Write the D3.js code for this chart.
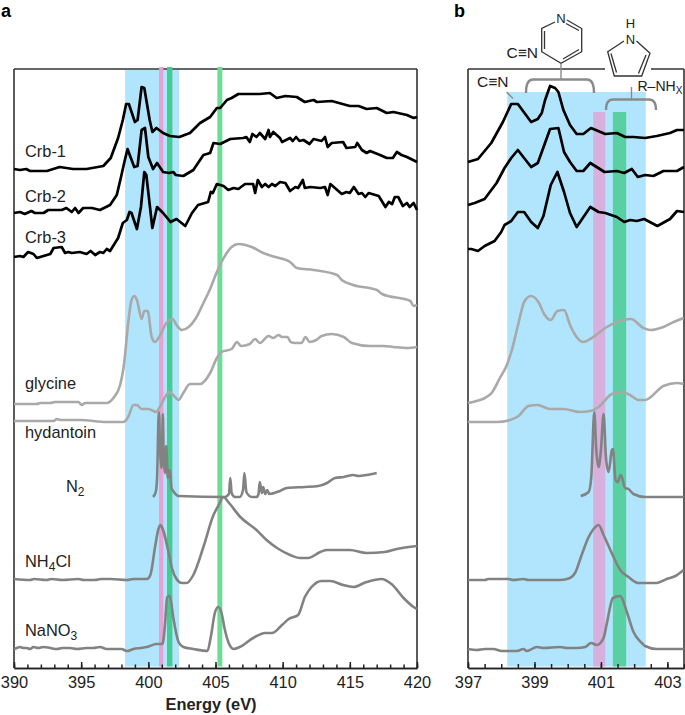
<html lang="en">
<head>
    <meta charset="UTF-8">
    <title>N K-edge spectra</title>
    <script src="https://cdn.jsdelivr.net/npm/d3@7"></script>
    <style>
        html, body { margin: 0; padding: 0; background: #fff; }
        text { font-family: "Liberation Sans", Arial, sans-serif; fill: #222; }
    </style>
</head>
<body>
    <script>
        // panel a, energy in eV and intensity in arbitrary units (stacked)
        var aCrb1E = [390,390.45,390.9,391.2,392.45,393.4,394.4,395.4,396.65,397.2,397.75,398.1,398.35,398.55,399,399.2,399.5,399.7,400.1,400.3,400.6,401.1,401.6,402.3,403.1,403.85,404.6,405.1,405.35,405.85,406.2,406.7,408.3,409.05,409.55,410.2,411.05,411.65,412.3,412.55,413.65,415,415.65,416.25,417,417.75,418.25,419.25,419.75,420];
        var aCrb1I = [499,498,499,497,497,501,499,499,502,510,530,548,564,564,546,548,581,580,548,536,540,535,532,531,535,545,551,560,560,568,570,574,574,575,570,572,571,566,568,566,567,562,562,559,560,555,556,553,550,551];

        var aCrb2E = [390,390.45,390.8,391.3,391.55,392.2,392.55,393.55,393.9,394.3,394.55,394.8,395.15,395.8,396.4,397.15,397.65,397.95,398.2,398.45,398.95,399.2,399.5,399.75,400,400.35,400.65,401.1,401.55,401.85,402.05,402.6,403.35,404.1,404.6,404.85,405.35,406.1,407.05,407.3,407.55,407.75,408.05,408.3,408.7,408.95,409.05,409.3,409.8,409.95,410.55,410.75,411,411.25,411.55,412,412.3,412.9,413.15,413.35,413.65,414.5,414.75,415.4,415.55,415.9,416.25,416.5,417.25,417.75,418.2,418.5,418.85,419.25,420];
        var aCrb2I = [455,456,454,457,455,455,458,458,460,456,460,455,460,460,458,463,473,490,505,519,501,502,538,540,511,499,505,496,495,496,493,492,498,513,515,525,524,529,530,531,526,534,531,535,529,538,531,536,530,526,530,527,531,527,528,524,529,527,531,521,525,526,520,521,525,518,515,517,513,510,510,516,513,511,506];

        var aCrb3E = [390,390.45,390.7,391.05,391.45,391.7,392.7,392.95,393.55,393.8,394.05,394.3,394.9,395.4,395.7,396.05,396.4,396.65,396.9,397.15,397.75,398.1,398.4,398.6,398.75,399.15,399.45,399.7,399.85,400.3,400.65,401.1,401.65,402.1,402.75,403.25,403.7,404.45,404.65,404.8,405.1,405.6,405.95,406.35,406.7,407.2,407.8,407.95,408.15,408.45,408.7,408.95,409.2,409.45,409.8,410.2,410.55,410.95,411.15,411.5,411.65,412.05,412.8,413.15,413.35,413.55,414.4,414.75,415,415.3,415.65,415.9,416.15,416.4,417.15,417.65,417.9,418.15,418.35,418.6,418.95,419.25,419.45,419.75,420];
        var aCrb3I = [411,412,411,416,414,410,414,420,421,415,416,415,416,414,417,413,416,415,419,417,430,445,448,456,455,439,461,496,493,440,461,455,446,449,442,455,463,466,476,475,484,482,478,480,479,484,484,475,488,481,484,481,484,482,486,485,477,481,480,488,480,481,480,481,473,484,474,476,475,481,474,475,471,475,472,461,466,464,471,471,462,465,461,465,458];

        var aGlycineE = [390,391.7,391.95,392.7,393.05,394.8,395.05,395.3,396.9,397.4,397.9,398.2,398.5,398.75,398.95,399.15,399.5,399.7,399.95,400.25,400.5,400.8,401.35,401.8,402.1,402.5,403,403.5,404.1,404.6,405.1,405.45,406.2,406.7,407.7,408.55,409.45,410.55,411.05,412.3,414.05,414.4,415.25,417,417.4,419.5,419.75,420];
        var aGlycineI = [264,264,265,265,266,266,263,265,265,270,283,305,345,368,372,368,349,357,357,331,326,331,345,349,343,338,341,349,365,379,396,406,421,424,421,415,411,406,400,398,393,388,383,378,374,367,362,363];

        var aHydantoinE = [390,392.95,393.2,393.45,394.9,396.9,398.15,398.5,398.9,399.15,399.5,400,400.6,400.85,401.25,401.55,401.85,402.25,402.6,403.1,403.85,404.6,405.1,405.45,406.2,406.6,406.9,407.55,407.95,408.3,408.95,409.3,409.7,409.95,410.35,410.6,410.95,411.4,411.7,412,412.5,412.9,413.65,414.55,415.15,416.5,417.5,418.25,419.25,420];
        var aHydantoinI = [247,247,249,248,248,246,246,251,263,263,259,259,256,261,271,276,273,268,275,284,284,295,310,316,319,326,322,324,329,325,332,330,333,331,331,326,325,325,331,326,328,332,334,331,325,322,322,321,320,321];

        var aN2E = [400.35,400.55,400.65,400.78,400.9,400.97,401.05,401.08,401.15,401.25,401.33,401.45,401.6,401.72,401.9,402.25,405.7,406,406.1,406.2,406.45,406.8,407.05,407.15,407.3,407.7,408.05,408.2,408.3,408.45,408.55,408.7,408.85,409,409.8,410.3,411.65,412.65,413.3,413.9,414.55,415.25,415.65,416.25,417];
        var aN2I = [171,176,190,256,212,200,235,254,205,195,222,190,198,180,176,172,171,174,190,175,171,171,178,195,176,171,171,174,186,175,181,174,178,174,177,180,181,182,185,190,191,193,192,193,195];

        var aNh4clE = [390,391.2,391.5,392.4,392.8,393.6,394.8,395.2,396,396.5,397.2,398.4,398.9,399.9,400.15,400.5,400.75,400.9,401.1,401.5,401.75,402.1,402.5,402.85,403.35,404.1,404.85,405.2,405.6,405.95,406.85,408.05,408.8,409.7,410.55,411.3,411.9,412.8,413.3,415,416.25,417.6,418.5,420];
        var aNh4clI = [89,88,89,88,89,88,89,88,88,89,89,88,89,89,93,121,139,143,138,116,100,89,85,85,93,121,153,162,171,166,151,138,128,119,113,110,110,116,118,118,115,116,119,122];

        var aNano3E = [390,390.2,390.45,390.7,390.95,391.2,391.45,391.8,392.2,392.7,393.2,393.6,394.15,394.7,395.4,395.9,396.4,396.9,398,398.4,398.9,399.4,399.9,400.6,401.05,401.25,401.4,401.6,401.85,402.25,402.6,403.35,404.4,404.65,404.95,405.2,405.45,405.7,406.05,406.35,406.8,407.8,408.7,409.2,409.95,410.45,411.15,411.65,412.15,412.9,413.55,414.5,415.25,416.25,417.35,418.1,419,419.75,420];
        var aNano3I = [19,20,21,20,20,19,21,20,21,20,19,20,20,19,20,20,21,19,19,17,19,20,21,24,24,45,71,72,51,26,21,19,17,31,55,61,55,38,23,19,21,30,35,35,43,49,53,71,81,87,87,83,81,86,89,84,70,61,59];

        // panel b
        var bCrb1E = [397,397.3,397.7,398.05,398.3,398.5,398.9,399.1,399.22,399.32,399.47,399.62,399.72,399.87,400.07,400.27,400.47,400.7,401.13,401.48,401.73,401.98,402.33,402.68,403.08,403.29,403.5];
        var bCrb1I = [506,509,525,546,564,564,546,549,555,568,582,580,576,558,543,534,534,540,534,535,531,531,530,532,535,538,538];

        var bCrb2E = [397,397.2,397.5,397.86,398.1,398.3,398.5,398.9,399.1,399.47,399.72,399.89,400.07,400.27,400.47,400.68,401.11,401.48,401.7,401.93,402.11,402.33,402.58,402.88,403.29,403.5];
        var bCrb2I = [463,465,469,485,500,510,518,501,505,539,540,516,506,497,497,505,496,497,495,499,491,493,492,497,497,501];

        var bCrb3E = [397,397.1,397.3,397.5,397.8,398,398.1,398.3,398.5,398.69,398.9,399.1,399.27,399.49,399.69,399.89,400.07,400.27,400.68,400.93,401.13,401.48,401.7,401.88,402.08,402.3,402.7,403.08,403.29,403.5];
        var bCrb3I = [419,419,417,422,427,436,443,447,456,456,446,440,452,483,496,476,455,441,461,456,455,451,446,448,447,449,442,449,457,456];

        var bGlycineE = [397,397.26,397.51,397.71,397.96,398.17,398.32,398.52,398.69,398.89,399.12,399.29,399.49,399.69,399.89,400.07,400.29,400.47,400.73,401.13,401.48,401.68,401.9,402.28,402.48,402.88,403.19,403.49];
        var bGlycineI = [265,267,270,275,290,303,318,345,366,372,366,354,348,357,358,343,330,326,330,340,346,348,349,340,338,341,346,350];

        var bHydantoinE = [397,397.86,398.27,398.52,398.82,399.09,399.47,399.87,400.37,400.68,400.93,401.33,401.63,401.88,402.13,402.33,402.88,403.29,403.49];
        var bHydantoinI = [246,246,248,252,262,263,259,259,256,257,261,274,276,273,268,268,282,285,284];

        var bN2E = [400.39,400.63,400.71,400.8,400.86,400.93,401,401.08,401.15,401.23,401.33,401.36,401.44,401.5,401.6,401.73,401.83,401.98,402.33,403.49];
        var bN2I = [172,176,191,256,218,201,218,254,211,196,218,219,188,186,193,180,179,174,171,171];

        var bNh4clE = [397,397.51,397.61,398.22,398.37,398.67,398.82,399.77,400.07,400.22,400.42,400.63,400.78,400.93,401.08,401.38,401.58,401.83,402.13,402.68,402.98,403.24,403.49];
        var bNh4clI = [88,88,89,89,88,89,88,88,90,95,113,131,139,143,133,111,98,91,85,85,89,92,98];

        var bNano3E = [397,397.26,397.51,397.76,398.02,398.47,398.67,398.77,399.07,399.27,399.77,399.97,400.27,400.53,400.7,400.88,401.08,401.18,401.36,401.58,401.78,401.98,402.23,402.33,402.68,402.98,403.19,403.49];
        var bNano3I = [19,18,19,19,17,17,19,17,21,20,21,20,20,21,25,23,30,45,70,72,56,36,25,22,19,19,19,19];

        var aLabels = ["Crb-1","Crb-2","Crb-3","glycine","hydantoin"];
        var aLabelIntensity = [511,466,425,279,230];
        var aTicks = [390,395,400,405,410,415,420];
        var bTicks = [397,399,401,403];

        var black = "#000", lightGrey = "#a9a9a9", darkGrey = "#828282";

        var width = 685, height = 715;
        var top_ = 69, bottom = 668;
        var fontSize = 16.4;

        var svg = d3.select("body").append("svg")
            .attr("width", width)
            .attr("height", height)
            .style("display", "block");

        var y = d3.scaleLinear().domain([0, 599]).range([bottom, top_]);
        var xa = d3.scaleLinear().domain([390, 420]).range([14, 417]);
        var xb = d3.scaleLinear().domain([397, 403.5]).range([468, 684]);

        function frame(x0, x1, gap) {
            var g = svg.append("g").attr("stroke", "#333").attr("stroke-width", 1.6).attr("fill", "none");
            var segs = gap
                ? [[x0, top_, gap[0], top_], [gap[1], top_, x1, top_]]
                : [[x0, top_, x1, top_]];
            segs.push([x0, top_, x0, bottom], [x1, top_, x1, bottom]);
            segs.forEach(s => g.append("line").attr("x1", s[0]).attr("y1", s[1]).attr("x2", s[2]).attr("y2", s[3]));
        }

        function band(x, e0, e1, yTop, color) {
            svg.append("rect")
                .attr("x", x(e0)).attr("width", x(e1) - x(e0))
                .attr("y", yTop).attr("height", 666.5 - yTop)
                .attr("fill", color);
        }

        function drawAxis(x, major, minor, size) {
            var minorAxis = d3.axisBottom(x).tickValues(minor).tickSizeInner(-size[1]).tickSizeOuter(0).tickFormat("");
            var majorAxis = d3.axisBottom(x).tickValues(major).tickSizeInner(-size[0]).tickSizeOuter(0).tickPadding(8.4).tickFormat(d3.format("d"));
            [minorAxis, majorAxis].forEach(function(a) {
                var g = svg.append("g").attr("transform", "translate(0," + bottom + ")").call(a);
                g.selectAll("path,line").attr("stroke", "#222").attr("stroke-width", 1.5);
                g.selectAll("text").attr("font-size", fontSize).attr("font-family", "Liberation Sans").attr("fill", "#222");
            });
        }

        function curve(x, es, is, color) {
            var l = d3.line().x(d => x(d[0])).y(d => y(d[1]));
            if (color !== black) l.curve(d3.curveMonotoneX);
            svg.append("path")
                .datum(d3.zip(es, is))
                .attr("d", l)
                .attr("fill", "none")
                .attr("stroke", color)
                .attr("stroke-width", color === black ? 2.7 : 2.6)
                .attr("stroke-linejoin", "round");
        }

        // panel a
        frame(14, 417);
        band(xa, 398.27, 402.29, 70, "#b1e5fd");
        band(xa, 400.8, 401.12, 67, "#e6a2d2");
        band(xa, 401.39, 401.79, 67, "#43cc8f");
        band(xa, 405.14, 405.51, 67, "#6fdb98");
        drawAxis(xa, aTicks, d3.range(390, 421), [6, 3.5]);

        [[aNano3E, aNano3I, darkGrey], [aNh4clE, aNh4clI, darkGrey], [aN2E, aN2I, darkGrey],
         [aHydantoinE, aHydantoinI, lightGrey], [aGlycineE, aGlycineI, lightGrey],
         [aCrb3E, aCrb3I, black], [aCrb2E, aCrb2I, black], [aCrb1E, aCrb1I, black]]
            .forEach(s => curve(xa, s[0], s[1], s[2]));

        aLabels.forEach(function(t, i) {
            svg.append("text").attr("x", 25).attr("y", y(aLabelIntensity[i])).attr("font-size", fontSize).text(t);
        });

        // label with one subscript, then whatever follows it
        function subLabel(x, yy, before, sub, after) {
            var t = svg.append("text").attr("x", x).attr("y", yy).attr("font-size", fontSize);
            t.append("tspan").text(before);
            t.append("tspan").attr("dy", 4).attr("font-size", 12).text(sub);
            if (after) t.append("tspan").attr("dy", -4).text(after);
        }
        subLabel(66, 492, "N", "2");
        subLabel(25, 567, "NH", "4", "Cl");
        subLabel(25, 635.5, "NaNO", "3");

        svg.append("text").attr("x", 211).attr("y", 710).attr("text-anchor", "middle")
            .attr("font-size", fontSize).attr("font-weight", "bold").text("Energy (eV)");
        svg.append("text").attr("x", 1).attr("y", 17).attr("font-size", 18).attr("font-weight", "bold").style("fill", "#000").text("a");
        svg.append("text").attr("x", 454).attr("y", 17).attr("font-size", 18).attr("font-weight", "bold").style("fill", "#000").text("b");

        // panel b
        frame(468, 684, [605, 651]);
        band(xb, 398.18, 402.35, 92, "#b1e5fd");
        band(xb, 400.77, 401.13, 112, "#d7b0dd");
        band(xb, 401.36, 401.76, 112, "#58d0a2");
        drawAxis(xb, bTicks, d3.range(397, 403.6, 0.5), [6, 4]);

        [[bNano3E, bNano3I, darkGrey], [bNh4clE, bNh4clI, darkGrey], [bN2E, bN2I, darkGrey],
         [bHydantoinE, bHydantoinI, lightGrey], [bGlycineE, bGlycineI, lightGrey],
         [bCrb3E, bCrb3I, black], [bCrb2E, bCrb2I, black], [bCrb1E, bCrb1I, black]]
            .forEach(s => curve(xb, s[0], s[1], s[2]));

        // brackets and structures above panel b
        var bracket = svg.append("g").attr("fill", "none").attr("stroke", "#8a8a8a").attr("stroke-width", 2.4);
        bracket.append("path").attr("d", "M526,93 Q526,79.5 533,79.5 L587,79.5 Q594,79.5 594,93");
        bracket.append("path").attr("d", "M606,110 Q606,99.5 613,99.5 L649,99.5 Q656,99.5 656,110");
        bracket.append("path").attr("d", "M631.5,87 V99.5").attr("stroke-width", 1.4);
        bracket.append("path").attr("d", "M561,64 V79.5").attr("stroke-width", 1.4);
        bracket.append("path").attr("d", "M506.5,92 L513,98.5").attr("stroke-width", 1.4);

        var bonds = svg.append("g").attr("fill", "none").attr("stroke", "#333").attr("stroke-width", 1.3);
        [
            "M555,22 L541.7,28.5 V51.7 L561,63.3 L581.7,51.7 V28.5 L567,20",
            "M544.5,31 V49", "M563,59 L579,49.5", "M566,23.5 L579,30.5",
            "M624,41 L607.7,51.7 L614.3,76 L641.7,76 L650,53.3 L636.5,41",
            "M611,53.5 L616.5,72.5", "M638.5,73.5 L646,55"
        ].forEach(d => bonds.append("path").attr("d", d));

        function chem(x, yy, t, anchor, size) {
            return svg.append("text").attr("x", x).attr("y", yy).attr("font-size", size || 13)
                .attr("text-anchor", anchor || "start").text(t);
        }
        chem(561, 22.5, "N", "middle");
        chem(630.5, 27.5, "H", "middle");
        chem(630.5, 43.5, "N", "middle");
        chem(506.5, 57.5, "C\u2261N", "start", 15.5);
        chem(477, 87, "C\u2261N", "start", 15.5);
        var rnh = chem(637.5, 91, "R\u2013NH", "start", 14);
        rnh.append("tspan").attr("dy", 2.5).attr("font-size", 10).text("X");
    </script>
</body>
</html>
